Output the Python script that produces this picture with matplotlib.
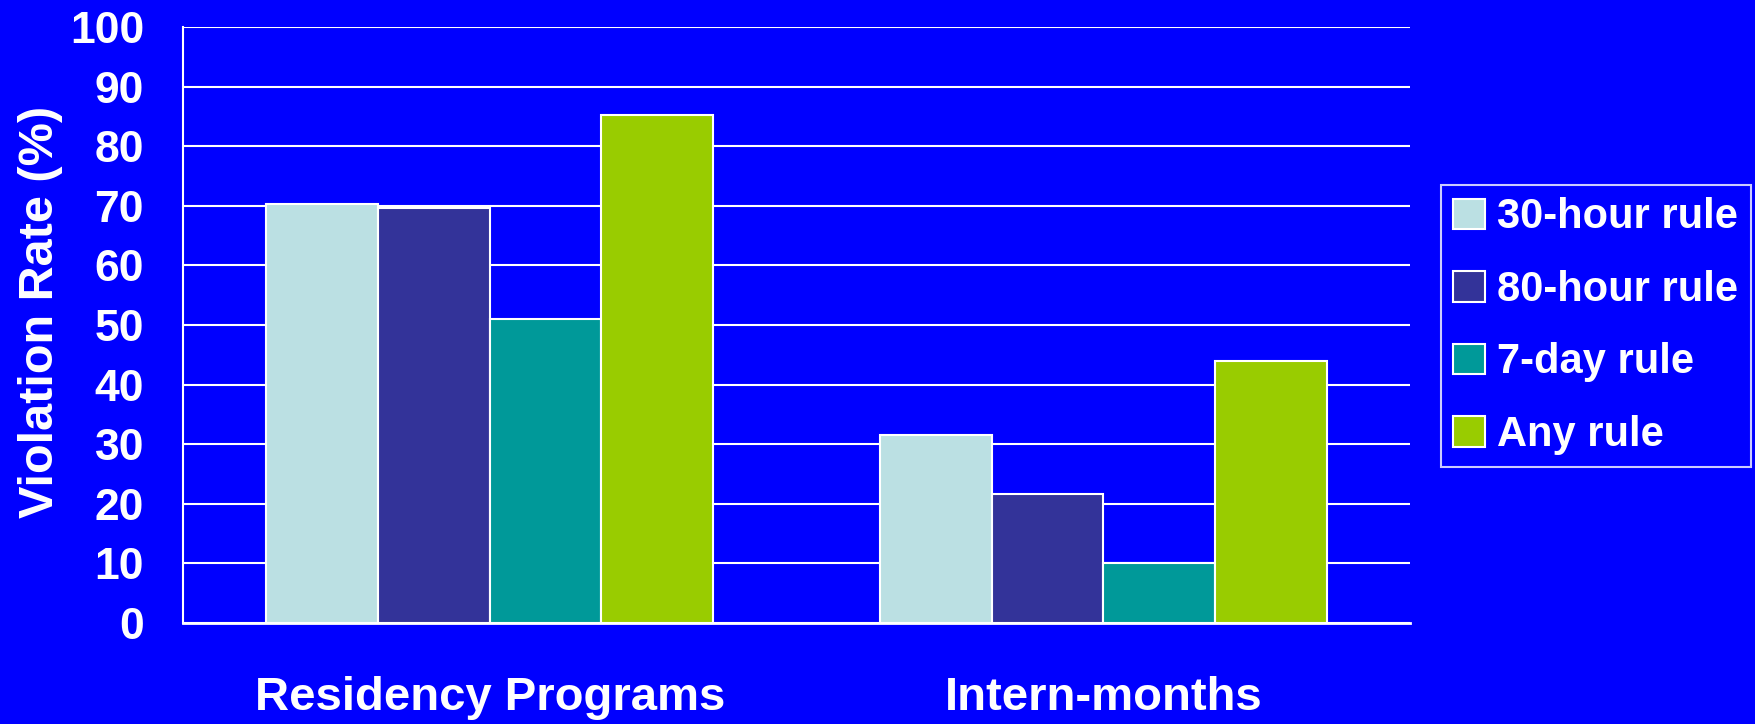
import matplotlib
matplotlib.use("Agg")
import matplotlib.pyplot as plt
import numpy as np

categories = ["Residency Programs", "Intern-months"]
series_names = ["30-hour rule", "80-hour rule", "7-day rule", "Any rule"]
rule_30h = [70.3, 31.6]
rule_80h = [69.6, 21.6]
rule_7d = [51.0, 10.0]
rule_any = [85.3, 44.0]
yticks = [0, 10, 20, 30, 40, 50, 60, 70, 80, 90, 100]

colors = ["#BBE0E3", "#333399", "#009999", "#99CC00"]
bg = "#0000FF"

plt.rcParams['font.family'] = ['Liberation Sans', 'DejaVu Sans']
plt.rcParams['font.weight'] = 'bold'

fig = plt.figure(figsize=(17.56, 7.24), dpi=100, facecolor=bg)
ax = fig.add_axes([0.1042, 0.1395, 0.803 - 0.1042, 0.9627 - 0.1395])
ax.set_facecolor(bg)

x = np.arange(len(categories))
w = 0.182
series = [rule_30h, rule_80h, rule_7d, rule_any]
for i, (vals, name, c) in enumerate(zip(series, series_names, colors)):
    ax.bar(x + (i - 1.5) * w, vals, width=w, color=c, edgecolor="white",
           linewidth=1.5, label=name, zorder=3)

ax.set_xlim(-0.5, 1.5)
ax.set_ylim(0, 100)
ax.set_yticks(yticks)
ax.set_yticklabels([str(t) for t in yticks], fontsize=32, fontweight='bold', color='white')
ax.set_xticks(x)
ax.set_xticklabels(categories, fontsize=34, fontweight='bold', color='white')
ax.tick_params(axis='y', length=0, pad=28)
ax.tick_params(axis='x', length=0, pad=38)
ax.yaxis.grid(True, color='white', linewidth=1.5, zorder=0)
ax.set_axisbelow(True)
for s in ['top', 'right']:
    ax.spines[s].set_visible(False)
ax.spines['left'].set_color('white')
ax.spines['left'].set_linewidth(1.5)
ax.spines['bottom'].set_color('white')
ax.spines['bottom'].set_linewidth(2)

fig.text(41 / 1756, 0.569, "Violation Rate (%)", rotation=90, ha='center', va='center',
         fontsize=35, fontweight='bold', color='white')

leg = fig.legend(loc='upper left', bbox_to_anchor=(0.8205, 0.7445), fontsize=30,
                 frameon=True, facecolor=bg, edgecolor='white', fancybox=False,
                 handlelength=0.75, handleheight=0.75, handletextpad=0.3,
                 labelspacing=0.78, borderpad=0.3, borderaxespad=0)
leg.get_frame().set_linewidth(1.5)
for t in leg.get_texts():
    t.set_color('white')
    t.set_fontweight('bold')

fig.savefig("out.png", dpi=100, facecolor=bg)
